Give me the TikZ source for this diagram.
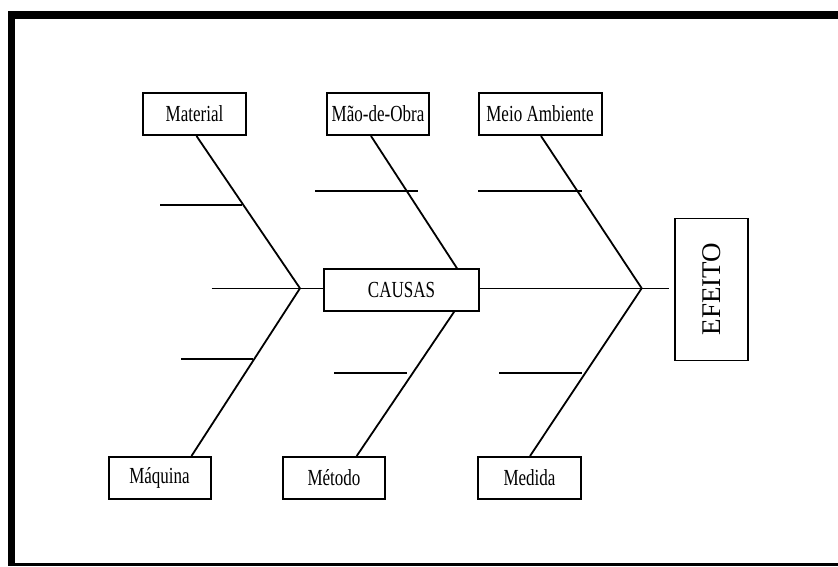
\documentclass[tikz,border=0pt]{standalone}
\usepackage{fontspec}
\setmainfont{Liberation Serif}
\newfontfamily\condfont[FakeStretch=0.74]{Liberation Serif}
\usetikzlibrary{backgrounds}
\begin{document}
\begin{tikzpicture}[x=1pt,y=-1pt,
  catbox/.style={draw,line width=2pt,fill=white,minimum height=42pt,inner sep=0pt,
    font=\condfont\fontsize{23}{23}\selectfont},
  bone/.style={line width=1.8pt},
  twig/.style={line width=1.2pt},
  spine/.style={line width=1.5pt}]
\useasboundingbox (0,0) rectangle (838,566);
% frame
\fill (8,11) rectangle (838,19);
\fill (8,11) rectangle (15,566);
\fill (8,563) rectangle (838,566);
% nodes
\node[catbox,minimum width=103pt] (mat) at (194.5,114) {Material};
\node[catbox,minimum width=102pt] (mao) at (378,114) {Mão-de-Obra};
\node[catbox,minimum width=123pt] (meio) at (540,114) {Meio Ambiente};
\node[catbox,minimum width=102pt] (maq) at (159.5,478) {Máquina};
\node[catbox,minimum width=102pt] (met) at (334,478) {Método};
\node[catbox,minimum width=103pt] (med) at (529.5,478) {Medida};
\node[catbox,minimum width=155pt,minimum height=42.5pt] (causas) at (401.5,290) {CAUSAS};
\node[draw,line width=1.3pt,fill=white,minimum width=142pt,minimum height=73pt,inner sep=0pt,
  rotate=90,font=\fontsize{27}{27}\selectfont] (efeito) at (711.5,289.2) {EFEITO};
% junctions
\coordinate (jL) at (300,288.3);
\coordinate (jM) at (470,288.3);
\coordinate (jR) at (641.7,288.3);
\coordinate (spL) at (211.7,288.3);
\coordinate (spR) at (669,288.3);
\begin{scope}[on background layer]
\draw[spine] (spL) -- (jL) -- (jM) -- (jR) -- (spR);
\draw[bone] ([xshift=2pt]mat.south) -- (jL);
\draw[bone] ([xshift=32pt]maq.north) -- (jL);
\draw[bone] ([xshift=-7pt]mao.south) -- (jM);
\draw[bone] ([xshift=22.7pt]met.north) -- (jM);
\draw[bone] ([xshift=1pt]meio.south) -- (jR);
\draw[bone] ([xshift=0.5pt]med.north) -- (jR);
% branches
\draw[twig] (160,205) -- (242,205);
\draw[twig] (315,191) -- (418,191);
\draw[twig] (478,191) -- (582,191);
\draw[twig] (181,359) -- (253,359);
\draw[twig] (334,373) -- (407,373);
\draw[twig] (499,373) -- (582,373);
\end{scope}
\end{tikzpicture}
\end{document}
